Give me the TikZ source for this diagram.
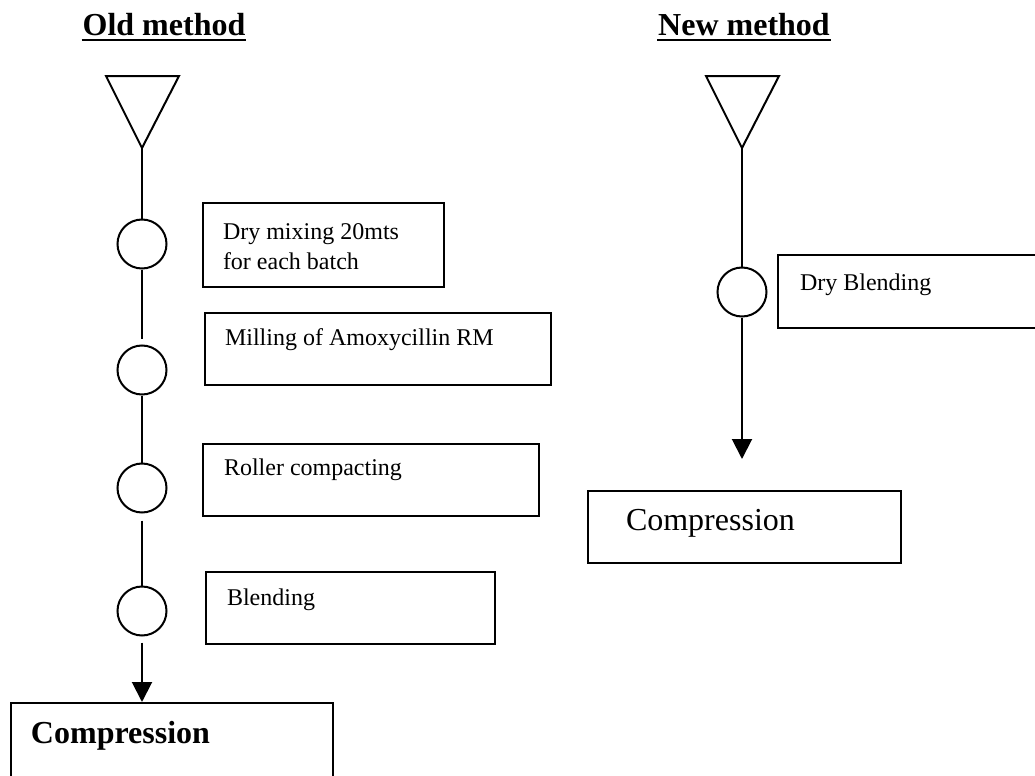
\documentclass[tikz,border=0pt]{standalone}
\usepackage{fontspec}
\setmainfont{Liberation Serif}
\usetikzlibrary{arrows.meta}

\begin{document}
\begin{tikzpicture}[x=0.5pt,y=-0.5pt,line width=1pt,
    title/.style={anchor=base,inner sep=0pt,font=\fontsize{16}{19}\selectfont\bfseries},
    stage/.style={draw,circle,minimum size=24.5pt,inner sep=0pt},
    stepbox/.style={draw,anchor=north west,inner sep=0pt},
    steptext/.style={anchor=base west,inner sep=0pt,align=left,font=\fontsize{12}{15}\selectfont},
    bigtext/.style={anchor=base west,inner sep=0pt,font=\fontsize{16}{19}\selectfont},
    flow/.style={-{Triangle[length=10pt,width=10pt]}}]
    \useasboundingbox (0,0) rectangle (1035,776);
    \clip (0,0) rectangle (1035,776);

    % old method
    \node[title] (oldtitle) at (164,35) {Old method};
    \draw[line width=1.2pt] ([yshift=-2.5pt]oldtitle.base west) -- ([yshift=-2.5pt]oldtitle.base east);
    \draw (106,76) -- (179,76) -- (142,148) -- cycle;
    \coordinate (oldapex) at (142,148);

    \node[stage] (o1) at (142,244) {};
    \node[stage] (o2) at (142,370) {};
    \node[stage] (o3) at (142,488) {};
    \node[stage] (o4) at (142,611) {};

    \node[stepbox,minimum width=120.5pt,minimum height=42pt] (mixbox) at (202,202) {};
    \node[steptext,anchor=north west] (mixtext) at ([shift={(20,21)}]mixbox.north west) {Dry mixing 20mts\\for each batch};
    \node[stepbox,minimum width=173pt,minimum height=36pt] (millbox) at (204,312) {};
    \node[steptext] (milltext) at ([shift={(20,33)}]millbox.north west) {Milling of Amoxycillin RM};
    \node[stepbox,minimum width=168pt,minimum height=36pt] (rollbox) at (202,443) {};
    \node[steptext] (rolltext) at ([shift={(21,32)}]rollbox.north west) {Roller compacting};
    \node[stepbox,minimum width=144.5pt,minimum height=36pt] (blendbox) at (205,571) {};
    \node[steptext] (blendtext) at ([shift={(21,34)}]blendbox.north west) {Blending};
    \node[stepbox,minimum width=161pt,minimum height=50pt] (oldcomp) at (10,702) {};
    \node[bigtext,font=\fontsize{16}{19}\selectfont\bfseries] (oldcomptext) at ([shift={(20,41)}]oldcomp.north west) {Compression};

    \draw (oldapex) -- (o1);
    \draw[shorten >=3pt] (o1) -- (o2);
    \draw (o2) -- (o3);
    \draw[shorten <=3.5pt] (o3) -- (o4);
    \draw[flow,shorten <=3pt] (o4) -- (o4 |- oldcomp.north);

    % new method
    \node[title] (newtitle) at (744,35) {New method};
    \draw[line width=1.2pt] ([yshift=-2.5pt]newtitle.base west) -- ([yshift=-2.5pt]newtitle.base east);
    \draw (706,76) -- (779,76) -- (742,148) -- cycle;
    \coordinate (newapex) at (742,148);

    \node[stage] (n1) at (742,292) {};
    \node[stepbox,minimum width=150pt,minimum height=36.5pt] (drybox) at (777,254) {};
    \node[steptext] (drytext) at ([shift={(22,36)}]drybox.north west) {Dry Blending};
    \node[stepbox,minimum width=156.5pt,minimum height=36pt] (newcomp) at (587,490) {};
    \node[bigtext] (newcomptext) at ([shift={(38,40)}]newcomp.north west) {Compression};

    \coordinate (newend) at (742,459);
    \draw (newapex) -- (n1);
    \draw[flow] (n1) -- (newend);
\end{tikzpicture}
\end{document}
